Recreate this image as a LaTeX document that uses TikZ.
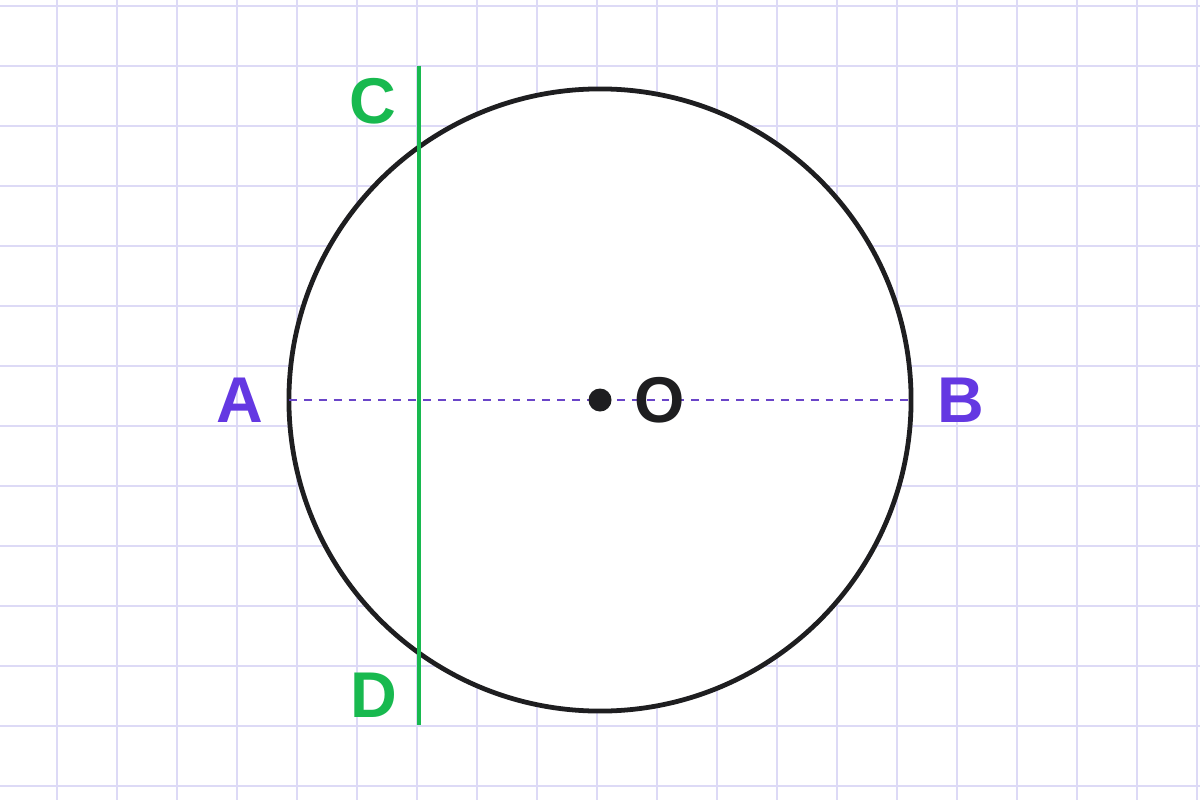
\documentclass[tikz,border=0pt]{standalone}
\usepackage{fontspec}
\setmainfont{Liberation Sans}

\definecolor{gridlilac}{HTML}{DDDAF6}
\definecolor{chordgreen}{HTML}{18B94F}
\definecolor{diampurple}{HTML}{6438E2}
\definecolor{dashpurple}{HTML}{6A45C8}
\definecolor{inkblack}{HTML}{1E1E20}

\tikzset{
  letter/.style={font=\fontsize{46}{46}\selectfont\bfseries, inner sep=0},
  gridrule/.style={draw=gridlilac, line width=1.5pt},
}

\begin{document}
\begin{tikzpicture}[x=0.025cm, y=-0.025cm]

\fill[white] (0,0) rectangle (1200,800);
\useasboundingbox (0,0) rectangle (1200,800);

% paper grid
\foreach \gx in {57,117,...,1197}
  \draw[gridrule] (\gx,0) -- (\gx,800);
\foreach \gy in {6,66,...,786}
  \draw[gridrule] (0,\gy) -- (1200,\gy);

\node[draw=inkblack, line width=3.4pt, circle, fill=white, minimum size=15.55cm, inner sep=0, outer sep=0] (ring) at (600,400) {};

\draw[dashpurple, line width=1.3pt, dash pattern=on 5.6pt off 5pt] (ring.west) -- (ring.east);

\coordinate (chordtop) at (419,66);
\coordinate (chordbot) at (419,725);
\draw[chordgreen, line width=2.6pt] (chordtop) -- (chordbot);

\node[circle, fill=inkblack, minimum size=0.575cm, inner sep=0] (centre) at (600,400) {};

\node[letter, text=diampurple] (A) at (240,400) {A};
\node[letter, text=diampurple] (B) at (961,400) {B};
\node[letter, text=chordgreen] (C) at (373,101) {C};
\node[letter, text=chordgreen] (D) at (374,695) {D};
\node[letter, text=inkblack] (O) at (660,400) {O};

\end{tikzpicture}
\end{document}
